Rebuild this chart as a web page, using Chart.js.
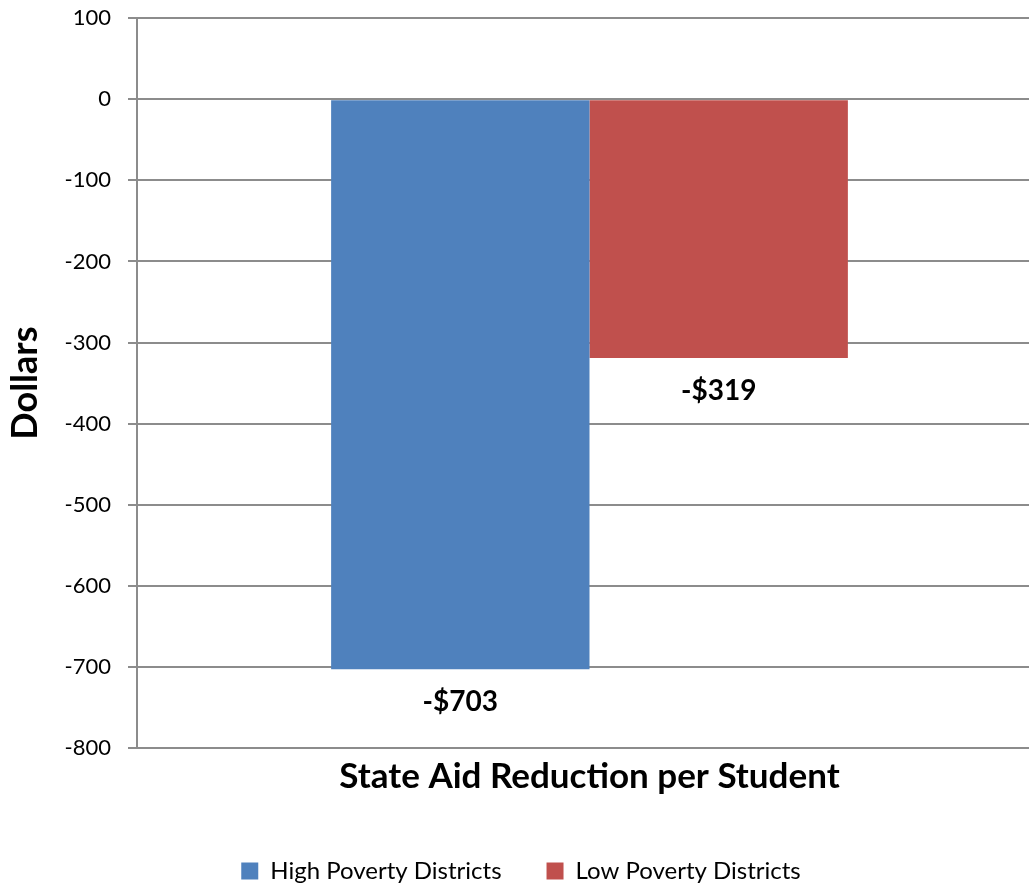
<!DOCTYPE html>
<html>
<head>
<meta charset="utf-8">
<script src="https://cdn.jsdelivr.net/npm/chart.js@4"></script>
<style>
  html, body { margin: 0; padding: 0; background: #fff; overflow: hidden; }
  #wrap { width: 1029px; height: 886px; overflow: hidden; }
  #chart { display: block; margin-top: -12px; }
</style>
</head>
<body>
<div id="wrap"><canvas id="chart" width="1042" height="905"></canvas></div>
<script>
var categories = ['State Aid Reduction per Student']
var seriesNames = ['High Poverty Districts', 'Low Poverty Districts']
var highPoverty = [-703]
var lowPoverty = [-319]
var valueLabels = [['-$703'], ['-$319']]
var yMin = -800, yMax = 100, yStep = 100

var font = 'Lato, "Open Sans", sans-serif'
var gridColor = '#8c8c8c'

// draws the bold dollar labels under the end of each bar
var barLabels = {
  id: 'barLabels',
  afterDatasetsDraw: function(chart) {
    var ctx = chart.ctx
    ctx.save()
    ctx.font = 'bold 28px ' + font
    ctx.fillStyle = '#000'
    ctx.textAlign = 'center'
    ctx.textBaseline = 'middle'
    chart.data.datasets.forEach(function(ds, i) {
      chart.getDatasetMeta(i).data.forEach(function(bar, j) {
        ctx.fillText(valueLabels[i][j], bar.x, bar.y + 33)
      })
    })
    ctx.restore()
  }
}

var ctx = document.getElementById('chart').getContext('2d')
var chart = new Chart(ctx, {
  type: 'bar',
  data: {
    labels: categories,
    datasets: [{
      label: seriesNames[0],
      data: highPoverty,
      backgroundColor: '#4f81bd',
      barPercentage: 1,
      categoryPercentage: 0.571
    }, {
      label: seriesNames[1],
      data: lowPoverty,
      backgroundColor: '#c0504d',
      barPercentage: 1,
      categoryPercentage: 0.571
    }]
  },
  options: {
    responsive: false,
    animation: false,
    layout: { padding: { top: 4, right: 0, bottom: 0, left: 0 } },
    plugins: {
      legend: {
        position: 'bottom',
        labels: {
          font: { family: font, size: 24 },
          color: '#000',
          boxWidth: 17,
          boxHeight: 17,
          padding: 45
        }
      },
      tooltip: { enabled: false }
    },
    scales: {
      x: {
        grid: { display: false },
        border: { display: false },
        ticks: { display: false },
        title: {
          display: true,
          text: categories[0],
          color: '#000',
          font: { family: font, size: 35, weight: 'bold' },
          padding: { top: 0, bottom: 16 }
        },
        afterFit: function(scale) { scale.height = 66 }
      },
      y: {
        min: yMin,
        max: yMax,
        ticks: {
          stepSize: yStep,
          color: '#000',
          font: { family: font, size: 22 },
          padding: 17
        },
        grid: { color: gridColor, lineWidth: 2, tickLength: 9 },
        border: { color: gridColor, width: 2 },
        title: {
          display: true,
          text: 'Dollars',
          color: '#000',
          font: { family: font, size: 36, weight: 'bold' },
          padding: { top: 4, bottom: 0 }
        },
        afterFit: function(scale) { scale.width = 137 }
      }
    }
  },
  plugins: [barLabels]
})
</script>
</body>
</html>
